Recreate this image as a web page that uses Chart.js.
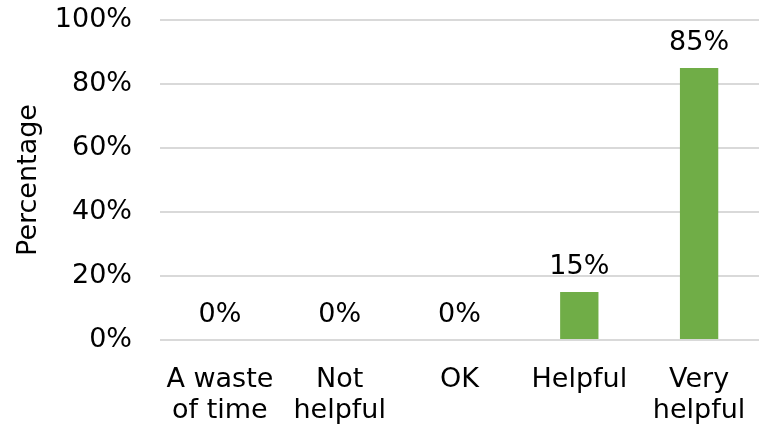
<!DOCTYPE html>
<html>
<head>
<meta charset="utf-8">
<script src="https://cdn.jsdelivr.net/npm/chart.js@4"></script>
<style>
  html, body { margin: 0; padding: 0; background: #fff; }
  #wrap { width: 759px; height: 430px; }
</style>
</head>
<body>
<div id="wrap"><canvas id="myChart" width="759" height="430"></canvas></div>
<script>
// Categories (multi-line labels)
const categories = [['A waste', 'of time'], ['Not', 'helpful'], 'OK', 'Helpful', ['Very', 'helpful']];

// Percentages per category
const percentages = [0, 0, 0, 15, 85];

// Y axis tick values
const yTicks = [0, 20, 40, 60, 80, 100];

const FONT = 'DejaVu Sans, Verdana, sans-serif';
const SIZE = 27;

// Draws the value label above each bar.
const valueLabels = {
  id: 'valueLabels',
  afterDatasetsDraw(chart) {
    const ctx = chart.ctx;
    const meta = chart.getDatasetMeta(0);
    ctx.save();
    ctx.font = SIZE + 'px ' + FONT;
    ctx.fillStyle = '#000';
    ctx.textAlign = 'center';
    ctx.textBaseline = 'alphabetic';
    meta.data.forEach((bar, i) => {
      ctx.fillText(percentages[i] + '%', bar.x, bar.y - 18);
    });
    ctx.restore();
  }
};

const data = {
  labels: categories,
  datasets: [
    {
      data: percentages,
      backgroundColor: '#70AD47',
      borderWidth: 0,
      barPercentage: 0.64,
      categoryPercentage: 0.5,
    },
  ],
};

const config = {
  type: 'bar',
  data: data,
  options: {
    responsive: false,
    animation: false,
    layout: { padding: { top: 20, right: 0, bottom: 0, left: 0 } },
    plugins: {
      legend: { display: false },
      tooltip: { enabled: false },
    },
    scales: {
      x: {
        grid: { display: false },
        border: { display: false },
        ticks: {
          color: '#000',
          font: { family: FONT, size: SIZE, lineHeight: 1.15 },
          maxRotation: 0,
          autoSkip: false,
          padding: 16,
        },
        afterFit(scale) {
          scale.height = 90;
          scale.paddingLeft = 0;
          scale.paddingRight = 0;
        },
      },
      y: {
        min: 0,
        max: 100,
        afterBuildTicks(scale) {
          scale.ticks = yTicks.map((v) => ({ value: v }));
        },
        grid: { color: '#d9d9d9', lineWidth: 2, drawTicks: false },
        border: { display: false },
        ticks: {
          color: '#000',
          font: { family: FONT, size: SIZE },
          padding: 28,
          callback: (v) => v + '%',
        },
        title: {
          display: true,
          text: 'Percentage',
          color: '#000',
          font: { family: FONT, size: SIZE },
          padding: { top: 13, bottom: 0 },
        },
        afterFit(scale) {
          scale.width = 160;
          scale.paddingTop = 0;
          scale.paddingBottom = 0;
        },
      },
    },
  },
  plugins: [valueLabels],
};

const chart = new Chart(document.getElementById('myChart'), config);
</script>
</body>
</html>
